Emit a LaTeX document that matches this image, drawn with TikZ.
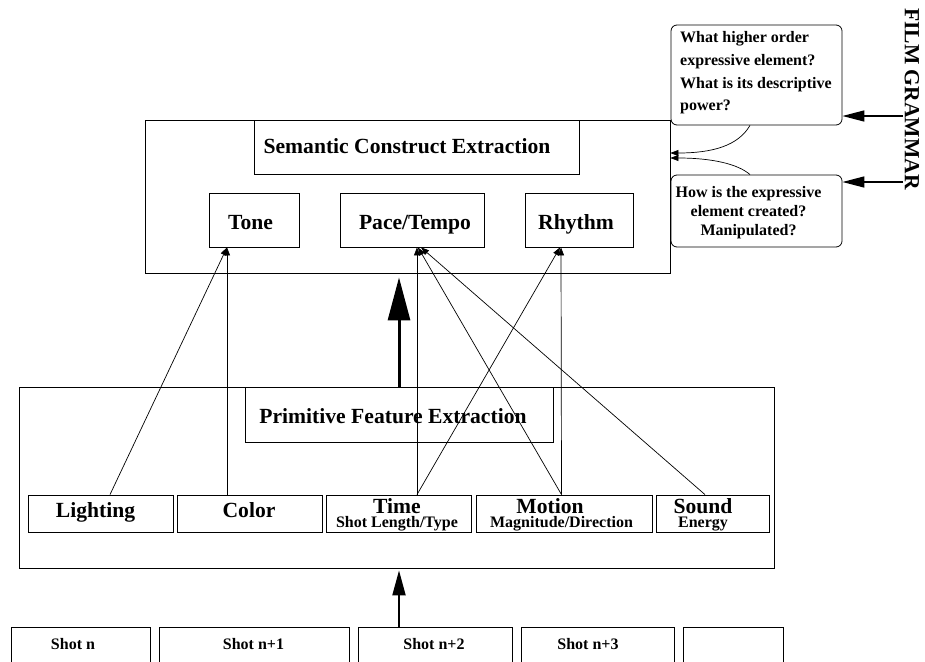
\documentclass[tikz,border=0pt]{standalone}
\usepackage{fontspec}
\setmainfont{Liberation Serif}
\usetikzlibrary{arrows.meta}
\begin{document}
\begin{tikzpicture}[x=1pt,y=-1pt,
  box/.style={draw, line width=0.8pt, inner sep=0pt},
  callout/.style={box, rounded corners=6pt},
  big/.style={font=\fontsize{21.6}{26}\selectfont\bfseries, inner sep=0pt, anchor=base},
  small/.style={font=\fontsize{16}{19}\selectfont\bfseries, inner sep=0pt, anchor=base},
  smallw/.style={small, anchor=base west},
  twoline/.style={font=\fontsize{21.6}{14}\selectfont\bfseries, inner sep=0pt, align=center, anchor=base},
  thinarrow/.style={line width=0.7pt, -{Triangle[length=8pt,width=6pt]}},
  gramarrow/.style={line width=1.5pt, -{Triangle[length=22pt,width=11pt]}},
]
\newcommand{\subline}{\fontsize{16}{14}\selectfont}
\useasboundingbox (0,0) rectangle (925,661);
\clip (0,0) rectangle (925,661);

% Semantic construct extraction
\node[box, minimum width=525pt, minimum height=153pt] (sem) at (407.5,196.5) {};
\node[box, minimum width=325pt, minimum height=54pt] (stitle) at (416.5,147) {};
\node[big] (stitlet) at (407,153) {Semantic Construct Extraction};
\node[box, minimum width=90pt, minimum height=54pt] (tone) at (254,220) {};
\node[big] (tonet) at (250.5,229) {Tone};
\node[box, minimum width=144pt, minimum height=54pt] (pace) at (412,220) {};
\node[big] (pacet) at (415,229) {Pace/Tempo};
\node[box, minimum width=108pt, minimum height=54pt] (rhythm) at (579,220) {};
\node[big] (rhythmt) at (576,229) {Rhythm};

% Callouts
\node[callout, minimum width=171pt, minimum height=100pt] (c1) at (756.5,75) {};
\node[smallw] (c1a) at (680,43) {What higher order};
\node[smallw] (c1b) at (680,65.5) {expressive element?};
\node[smallw] (c1c) at (680,88) {What is its descriptive};
\node[smallw] (c1d) at (680,110.5) {power?};
\node[callout, minimum width=171pt, minimum height=72pt] (c2) at (756.5,211) {};
\node[small] (c2a) at (748.5,197) {How is the expressive};
\node[small] (c2b) at (748.5,216) {element created?};
\node[small] (c2c) at (748.5,235) {Manipulated?};

% Film grammar
\node[font=\fontsize{21.6}{26}\selectfont\bfseries, inner sep=0pt, rotate=-90] (fg) at (912,99) {FILM GRAMMAR};
\coordinate (g1) at (903,116);
\coordinate (g2) at (903,182);
\draw[gramarrow] (g1) -- (c1.east |- g1);
\draw[gramarrow] (g2) -- (c2.east |- g2);

\coordinate (h1) at (671,153);
\coordinate (h2) at (671,158);
\draw[thinarrow] ([xshift=-6.5pt]c1.south) .. controls (738,146) and (712,153) .. (sem.east |- h1);
\draw[thinarrow] ([xshift=-6.5pt]c2.north) .. controls (738,164) and (712,158) .. (sem.east |- h2);

% Primitive feature extraction
\node[box, minimum width=755pt, minimum height=181pt] (prim) at (396.5,477.5) {};
\node[box, minimum width=308pt, minimum height=55pt] (ptitle) at (399,414.5) {};
\node[big] (ptitlet) at (393,423) {Primitive Feature Extraction};

\node[box, minimum width=145pt, minimum height=37pt] (light) at (100.5,513.5) {};
\node[big] (lightt) at (95.5,517) {Lighting};
\node[box, minimum width=145pt, minimum height=37pt] (color) at (249.5,513.5) {};
\node[big] (colort) at (249,517) {Color};
\node[box, minimum width=145pt, minimum height=37pt] (time) at (398.5,513.5) {};
\node[twoline] (timet) at (397,527) {Time\\\subline Shot Length/Type};
\node[box, minimum width=176pt, minimum height=37pt] (motion) at (564,513.5) {};
\node[twoline] (motiont) at (561.5,527) {Motion\hspace*{23pt}\\\subline Magnitude/Direction};
\node[box, minimum width=113pt, minimum height=37pt] (sound) at (712.5,513.5) {};
\node[twoline] (soundt) at (703,527) {Sound\\\subline Energy};

% Shots
\node[box, minimum width=139pt, minimum height=73pt] (s0) at (80.5,663.5) {};
\node[small] (s0t) at (73,649) {Shot n};
\node[box, minimum width=190pt, minimum height=73pt] (s1) at (254,663.5) {};
\node[small] (s1t) at (253.5,649) {Shot n+1};
\node[box, minimum width=154pt, minimum height=73pt] (s2) at (435,663.5) {};
\node[small] (s2t) at (434,649) {Shot n+2};
\node[box, minimum width=153pt, minimum height=73pt] (s3) at (597.5,663.5) {};
\node[small] (s3t) at (588,649) {Shot n+3};
\node[box, minimum width=100pt, minimum height=73pt] (s4) at (733,663.5) {};

% Main arrows
\draw[line width=3pt, -{Triangle[length=43pt,width=22pt]}, shorten >=4pt] (ptitle.north) -- (ptitle.north |- sem.south);
\draw[line width=2pt, -{Triangle[length=25pt,width=13pt]}, shorten >=2pt] ([xshift=-36pt]s2.north) -- ([xshift=-36pt]s2.north |- prim.south);

% Feature arrows
\draw[thinarrow] ([xshift=9.5pt]light.north) -- ([xshift=-27pt]tone.south);
\draw[thinarrow] ([xshift=-22.5pt]color.north) -- ([xshift=-27pt]tone.south);
\draw[thinarrow] ([xshift=18.5pt]time.north) -- ([xshift=5pt]pace.south);
\draw[thinarrow] ([xshift=-2.5pt]motion.north) -- ([xshift=6pt]pace.south);
\draw[thinarrow] ([xshift=-7.5pt]sound.north) -- ([xshift=9pt]pace.south);
\draw[thinarrow] ([xshift=18.5pt]time.north) -- ([xshift=-19pt]rhythm.south);
\draw[thinarrow] ([xshift=-2.5pt]motion.north) -- ([xshift=-18pt]rhythm.south);
\end{tikzpicture}
\end{document}
